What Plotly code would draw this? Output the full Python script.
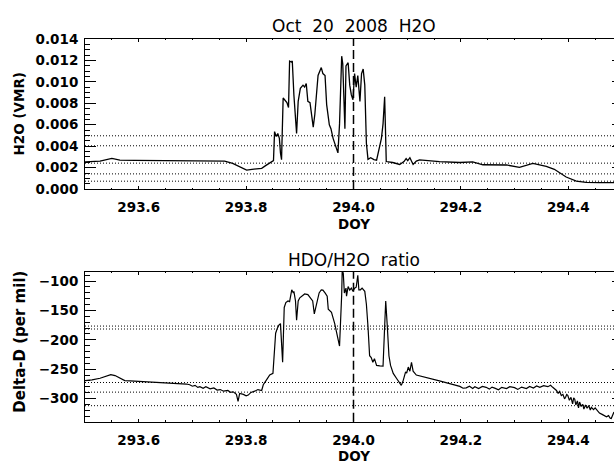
import plotly.graph_objects as go

# ---------------- data ----------------
doy_h2o = [293.500, 293.528, 293.550, 293.565, 293.593, 293.640, 293.695, 293.742, 293.760, 293.775,
           293.788, 293.801, 293.811, 293.822, 293.829, 293.837, 293.847, 293.851, 293.853, 293.856,
           293.859, 293.862, 293.864, 293.866, 293.869, 293.872, 293.876, 293.879, 293.881, 293.884,
           293.886, 293.889, 293.894, 293.897, 293.901, 293.906, 293.909, 293.912, 293.915, 293.919,
           293.925, 293.928, 293.934, 293.940, 293.943, 293.947, 293.950, 293.955, 293.958, 293.962,
           293.968, 293.971, 293.974, 293.978, 293.980, 293.984, 293.986, 293.990, 293.993, 293.996,
           293.999, 294.002, 294.005, 294.008, 294.012, 294.015, 294.018, 294.021, 294.024, 294.027,
           294.032, 294.038, 294.043, 294.047, 294.052, 294.055, 294.058, 294.061, 294.073, 294.086,
           294.094, 294.098, 294.101, 294.105, 294.111, 294.117, 294.123, 294.160, 294.198, 294.222,
           294.241, 294.285, 294.300, 294.309, 294.334, 294.359, 294.374, 294.396, 294.415, 294.433,
           294.458, 294.500]
h2o_vmr = [0.00254, 0.00261, 0.00287, 0.00270, 0.00268, 0.00268, 0.00266, 0.00266, 0.00261, 0.00239,
           0.00207, 0.00178, 0.00185, 0.00194, 0.00194, 0.00221, 0.00248, 0.00266, 0.00536, 0.00491,
           0.00518, 0.00473, 0.00338, 0.00275, 0.00849, 0.00833, 0.00806, 0.00761, 0.01194, 0.01185,
           0.01194, 0.00878, 0.00518, 0.00818, 0.00939, 0.00969, 0.00951, 0.00984, 0.00818, 0.00806,
           0.00578, 0.00698, 0.01059, 0.01133, 0.01077, 0.01059, 0.00788, 0.00599, 0.00563, 0.00473,
           0.00368, 0.00338, 0.00608, 0.01239, 0.01167, 0.00563, 0.01149, 0.01178, 0.00969, 0.00878,
           0.00833, 0.01077, 0.00951, 0.01059, 0.00818, 0.01077, 0.01119, 0.00969, 0.00428, 0.00278,
           0.00293, 0.00275, 0.00270, 0.00356, 0.00473, 0.00608, 0.00860, 0.00257, 0.00248, 0.00230,
           0.00257, 0.00284, 0.00266, 0.00293, 0.00230, 0.00261, 0.00272, 0.00257, 0.00248, 0.00254,
           0.00227, 0.00225, 0.00212, 0.00203, 0.00239, 0.00212, 0.00185, 0.00113, 0.00074, 0.00062,
           0.00060, 0.00060]

doy_hdo = [293.500, 293.513, 293.528, 293.541, 293.548, 293.556, 293.565, 293.574, 293.584, 293.640,
           293.689, 293.695, 293.700, 293.705, 293.710, 293.714, 293.720, 293.725, 293.733, 293.740,
           293.746, 293.752, 293.758, 293.766, 293.771, 293.776, 293.782, 293.785, 293.788, 293.795,
           293.800, 293.804, 293.809, 293.816, 293.822, 293.829, 293.832, 293.838, 293.844, 293.850,
           293.853, 293.855, 293.858, 293.861, 293.864, 293.866, 293.868, 293.871, 293.874, 293.878,
           293.881, 293.885, 293.888, 293.889, 293.892, 293.894, 293.897, 293.900, 293.904, 293.909,
           293.915, 293.919, 293.924, 293.927, 293.930, 293.932, 293.936, 293.940, 293.943, 293.947,
           293.951, 293.953, 293.959, 293.965, 293.971, 293.974, 293.978, 293.979, 293.981, 293.983,
           293.986, 293.987, 293.990, 293.993, 293.996, 293.999, 294.002, 294.005, 294.008, 294.010,
           294.013, 294.016, 294.021, 294.024, 294.027, 294.030, 294.033, 294.036, 294.039, 294.043,
           294.049, 294.055, 294.058, 294.060, 294.063, 294.066, 294.069, 294.074, 294.080, 294.086,
           294.089, 294.092, 294.097, 294.099, 294.102, 294.105, 294.108, 294.111, 294.117, 294.160,
           294.198, 294.204, 294.210, 294.216, 294.222, 294.226, 294.233, 294.240, 294.247, 294.253,
           294.258, 294.263, 294.270, 294.276, 294.285, 294.291, 294.300, 294.306, 294.313, 294.322,
           294.328, 294.335, 294.341, 294.347, 294.354, 294.362, 294.367, 294.371, 294.378, 294.381,
           294.384, 294.387, 294.390, 294.393, 294.395, 294.397, 294.399, 294.402, 294.405, 294.408,
           294.410, 294.412, 294.414, 294.417, 294.419, 294.421, 294.424, 294.427, 294.429, 294.432,
           294.435, 294.438, 294.441, 294.443, 294.447, 294.450, 294.452, 294.455, 294.458, 294.463,
           294.467, 294.471, 294.475, 294.478, 294.480, 294.483, 294.485]
delta_d = [-269.4, -268.3, -265.5, -261.7, -259.2, -260.9, -264.5, -269.4, -269.9, -272.4,
           -275.3, -276.5, -279.0, -277.5, -281.0, -279.8, -282.5, -280.0, -283.5, -282.0,
           -285.5, -284.7, -287.5, -286.3, -289.5, -288.5, -292.9, -304.9, -291.3, -292.9,
           -295.4, -294.1, -289.6, -287.5, -284.7, -286.3, -276.5, -268.3, -260.0, -257.2,
           -205.3, -188.8, -180.6, -175.0, -172.4, -210.7, -238.2, -144.9, -136.7, -133.9,
           -135.0, -114.8, -120.2, -117.4, -133.9, -166.8, -133.9, -128.5, -125.2, -121.9,
           -123.0, -128.5, -133.9, -155.9, -142.1, -136.7, -120.2, -114.8, -115.3, -120.2,
           -125.7, -147.7, -153.1, -172.4, -197.0, -210.7, -123.0, -80.0, -87.3, -120.2,
           -112.0, -125.7, -109.2, -115.3, -112.0, -117.4, -112.0, -110.4, -90.1, -114.8,
           -114.8, -112.0, -117.4, -139.5, -177.8, -227.1, -230.4, -238.2, -232.1, -243.6,
           -244.4, -244.7, -177.8, -133.9, -177.8, -227.1, -243.6, -257.2, -265.5, -273.7,
           -277.6, -271.1, -254.6, -256.7, -246.4, -253.4, -238.2, -253.4, -260.0, -269.9,
           -279.3, -282.5, -281.9, -279.0, -282.8, -279.8, -283.0, -279.5, -280.9, -284.0,
           -280.5, -282.2, -285.0, -281.0, -283.1, -279.8, -281.4, -284.5, -280.5, -283.1,
           -279.5, -282.0, -278.5, -280.9, -278.0, -279.8, -277.5, -280.9, -286.3, -291.0,
           -288.0, -295.0, -292.9, -300.5, -297.9, -293.0, -294.6, -303.0, -298.0, -309.0,
           -299.0, -301.1, -311.0, -304.0, -316.0, -306.0, -313.0, -310.0, -318.0, -311.0,
           -316.5, -312.0, -319.5, -315.0, -319.0, -316.0, -318.5, -321.0, -324.7, -327.0,
           -329.0, -331.2, -329.1, -333.5, -334.0, -327.0, -323.0]

h2o_ref_levels = [0.00497, 0.00404, 0.00242, 0.00142, 0.00074]
dd_ref_levels = [-176.6, -181.6, -272.7, -289.1, -312.2]
event_doy = 294.0

x_range = [293.5, 294.5]
h2o_range = [0.0, 0.014]
dd_range = [-339.5, -84.5]

top_title = "Oct\u00a0\u00a020\u00a0\u00a02008\u00a0\u00a0H2O"
bottom_title = "HDO/H2O\u00a0\u00a0ratio"
x_title = "DOY"
y1_title = "H2O (VMR)"
y2_title = "Delta-D (per mil)"

# ---------------- layout geometry ----------------
W, H = 640, 470          # plot extends past the 614px window, as in the cropped original
L, R = 85, 18
PW = W - L - R


def py(p):
    return 1 - p / H


def px(p):
    return (p - L) / PW


tick_font = dict(family="DejaVu Sans", size=13.5, color="black", weight="bold")

xcommon = dict(range=x_range, tickmode="linear", tick0=293.6, dtick=0.2, tickformat=".1f",
               ticks="inside", ticklen=3, tickwidth=1, tickcolor="black",
               minor=dict(ticks="inside", tick0=293.5, dtick=0.05, ticklen=1.5, tickwidth=1, tickcolor="black"),
               showline=True, linecolor="black", linewidth=1, mirror="allticks",
               showgrid=False, zeroline=False, tickfont=tick_font, ticklabelstandoff=6)

fig = go.Figure()
fig.add_trace(go.Scatter(x=doy_h2o, y=h2o_vmr, mode="lines", line=dict(color="black", width=1.3),
                         xaxis="x", yaxis="y", showlegend=False))
fig.add_trace(go.Scatter(x=doy_hdo, y=delta_d, mode="lines", line=dict(color="black", width=1.2),
                         xaxis="x2", yaxis="y2", showlegend=False))

shapes = []
for lv in h2o_ref_levels:
    shapes.append(dict(type="line", xref="x domain", x0=0, x1=1, yref="y", y0=lv, y1=lv,
                       line=dict(color="black", width=1, dash="1px,2px")))
for lv in dd_ref_levels:
    shapes.append(dict(type="line", xref="x2 domain", x0=0, x1=1, yref="y2", y0=lv, y1=lv,
                       line=dict(color="black", width=1, dash="1px,2px")))
for xa, ya in (("x", "y domain"), ("x2", "y2 domain")):
    shapes.append(dict(type="line", xref=xa, x0=event_doy, x1=event_doy, yref=ya, y0=0, y1=1,
                       line=dict(color="black", width=1.5, dash="9px,4px")))

title_font = dict(family="DejaVu Sans", size=17, color="black")
axis_title_font = dict(family="DejaVu Sans", size=13.5, color="black", weight="bold")
annotations = [
    dict(text=top_title, x=0.5, y=py(19), xref="paper", yref="paper", showarrow=False,
         xanchor="center", yanchor="middle", font=title_font),
    dict(text=bottom_title, x=0.5, y=py(261), xref="paper", yref="paper", showarrow=False,
         xanchor="center", yanchor="middle", font=title_font),
    dict(text=x_title, x=0.5, y=py(223.5), xref="paper", yref="paper", showarrow=False,
         xanchor="center", yanchor="middle", font=axis_title_font),
    dict(text=x_title, x=0.5, y=py(463.5), xref="paper", yref="paper", showarrow=False,
         xanchor="center", yanchor="middle", font=axis_title_font),
    dict(text=y1_title, x=px(19.5), y=py(109.75), xref="paper", yref="paper", showarrow=False,
         textangle=-90, xanchor="center", yanchor="middle", font=axis_title_font),
    dict(text=y2_title, x=px(20), y=py(345.5), xref="paper", yref="paper", showarrow=False,
         textangle=-90, xanchor="center", yanchor="middle",
         font=dict(family="DejaVu Sans", size=15, color="black", weight="bold")),
]

ycommon = dict(ticks="inside", ticklen=10.5, tickwidth=1, tickcolor="black",
               showline=True, linecolor="black", linewidth=1, mirror="allticks",
               showgrid=False, zeroline=False, tickfont=tick_font, ticklabelstandoff=3)

fig.update_layout(
    width=W, height=H, margin=dict(l=L, r=R, t=0, b=0, pad=0),
    paper_bgcolor="white", plot_bgcolor="white",
    xaxis=dict(domain=[0, 1], anchor="y", **xcommon),
    xaxis2=dict(domain=[0, 1], anchor="y2", **xcommon),
    yaxis=dict(domain=[py(187.5), py(32)], anchor="x", range=h2o_range, tickmode="linear",
               tick0=0, dtick=0.002, tickformat=".3f",
               minor=dict(ticks="inside", tick0=0, dtick=0.0005, ticklen=5, tickwidth=1, tickcolor="black"),
               **ycommon),
    yaxis2=dict(domain=[py(428.3), py(273.3)], anchor="x2", range=dd_range, tickmode="linear",
                tick0=0, dtick=50,
                minor=dict(ticks="inside", tick0=0, dtick=10, ticklen=5, tickwidth=1, tickcolor="black"),
                **ycommon),
    shapes=shapes, annotations=annotations, showlegend=False,
)

fig.write_html("out.html",
               post_script="document.documentElement.style.overflow='hidden';"
                           "document.body.style.overflow='hidden';")
